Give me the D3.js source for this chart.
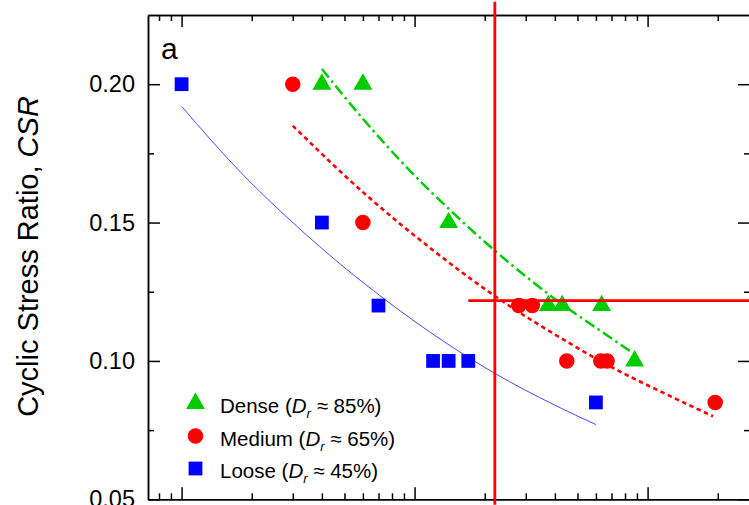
<!DOCTYPE html>
<html>
<head>
<meta charset="utf-8">
<script src="https://cdn.jsdelivr.net/npm/d3@7"></script>
<style>
  html, body { margin: 0; padding: 0; background: #fff; }
  svg { display: block; font-family: Arial, "Liberation Sans", sans-serif; }
</style>
</head>
<body>
<div id="chart"></div>
<script>
// data: N = number of cycles, CSR = cyclic stress ratio
var looseN = [1, 4, 7, 12, 14, 17, 60];
var looseCSR = [0.20, 0.15, 0.12, 0.10, 0.10, 0.10, 0.085];
var mediumN = [3, 6, 28, 32, 45, 63, 67, 195];
var mediumCSR = [0.20, 0.15, 0.12, 0.12, 0.10, 0.10, 0.10, 0.085];
var denseN = [4, 6, 14, 37.5, 43, 63.5, 88];
var denseCSR = [0.20, 0.20, 0.15, 0.12, 0.12, 0.12, 0.10];

// fitted curves, points
var looseFitN = [1, 1.8, 3, 8.7, 22, 40, 60];
var looseFitCSR = [0.192, 0.168, 0.150, 0.118, 0.0956, 0.084, 0.077];
var mediumFitN = [3, 6, 12, 22.5, 45, 71, 120, 191];
var mediumFitCSR = [0.185, 0.161, 0.140, 0.123, 0.107, 0.0975, 0.088, 0.080];
var denseFitN = [4, 6, 10, 14, 25, 40, 60, 84];
var denseFitCSR = [0.2055, 0.1875, 0.167, 0.155, 0.136, 0.1224, 0.112, 0.1036];

// red marker lines
var markerLineN = 22.1;
var markerLineCSRRange = [0.048, 0.2298];
var markerLineCSR = 0.1218;
var markerLineNRange = [17, 300];

var yTicks = [0.05, 0.10, 0.15, 0.20];
var yMinorTicks = [0.075, 0.125, 0.175];
var xTicks = [1, 10, 100];
var xMinorTicks = [0.8, 0.9, 2, 3, 4, 5, 6, 7, 8, 9, 20, 30, 40, 50, 60, 70, 80, 90, 200];

var legendLabels = [
	{ name: "Dense", pct: "85%" },
	{ name: "Medium", pct: "65%" },
	{ name: "Loose", pct: "45%" }
];

var W = 749, H = 505;
var plotLeft = 148, plotRight = 750, plotTop = 15, plotBottom = 499.3;

var svg = d3.select("#chart").append("svg").attr("width", W).attr("height", H);

var x = d3.scaleLog().domain([0.7175, 275.1]).range([plotLeft, plotRight]);
var y = d3.scaleLinear().domain([0.05, 0.225]).range([plotBottom, plotTop]);

var green = "#00cc00", red = "#ff0000", blue = "#0000ff";

// axes: ticks point inward on every side
function styleAxis(g) {
	g.selectAll("path").attr("stroke", "#000").attr("stroke-width", 1.5);
	g.selectAll("line").attr("stroke", "#000").attr("stroke-width", 1.5);
}
svg.append("g").attr("transform", "translate(" + plotLeft + ",0)")
	.call(d3.axisLeft(y).tickValues(yTicks).tickSizeInner(-12).tickSizeOuter(0)
		.tickPadding(13).tickFormat(d3.format(".2f")))
	.call(styleAxis)
	.call(function(g) {
		g.selectAll("text").attr("font-size", 23.5).attr("fill", "#000")
			.attr("font-family", "Arial, 'Liberation Sans', sans-serif");
	});
svg.append("g").attr("transform", "translate(" + plotLeft + ",0)")
	.call(d3.axisLeft(y).tickValues(yMinorTicks).tickSizeInner(-6).tickSizeOuter(0).tickFormat(""))
	.call(styleAxis);
svg.append("g").attr("transform", "translate(" + plotRight + ",0)")
	.call(d3.axisLeft(y).tickValues(yTicks).tickSizeInner(12).tickSizeOuter(0).tickFormat(""))
	.call(styleAxis);
svg.append("g").attr("transform", "translate(" + plotRight + ",0)")
	.call(d3.axisLeft(y).tickValues(yMinorTicks).tickSizeInner(6).tickSizeOuter(0).tickFormat(""))
	.call(styleAxis);
svg.append("g").attr("transform", "translate(0," + plotTop + ")")
	.call(d3.axisBottom(x).tickValues(xTicks).tickSizeInner(12).tickSizeOuter(0).tickFormat(""))
	.call(styleAxis);
svg.append("g").attr("transform", "translate(0," + plotTop + ")")
	.call(d3.axisBottom(x).tickValues(xMinorTicks).tickSizeInner(6).tickSizeOuter(0).tickFormat(""))
	.call(styleAxis);
svg.append("g").attr("transform", "translate(0," + plotBottom + ")")
	.call(d3.axisTop(x).tickValues(xTicks).tickSizeInner(12).tickSizeOuter(0).tickFormat(""))
	.call(styleAxis);
svg.append("g").attr("transform", "translate(0," + plotBottom + ")")
	.call(d3.axisTop(x).tickValues(xMinorTicks).tickSizeInner(6).tickSizeOuter(0).tickFormat(""))
	.call(styleAxis);

// y title
svg.append("text")
	.attr("transform", "translate(38,256.5) rotate(-90)")
	.attr("text-anchor", "middle")
	.attr("font-size", 29)
	.attr("fill", "#000")
	.call(function(t) {
		t.append("tspan").text("Cyclic Stress Ratio, ");
		t.append("tspan").attr("font-style", "italic").text("CSR");
	});

// panel label
svg.append("text").attr("x", 161).attr("y", 59).attr("font-size", 30).attr("fill", "#000").text("a");

// fit curves
var line = d3.line().x(function(d) { return x(d[0]); }).y(function(d) { return y(d[1]); })
	.curve(d3.curveMonotoneX);
function pairs(a, b) { return a.map(function(v, i) { return [v, b[i]]; }); }

svg.append("path").datum(pairs(looseFitN, looseFitCSR)).attr("d", line)
	.attr("fill", "none").attr("stroke", "#4a4aff").attr("stroke-width", 1);
svg.append("path").datum(pairs(mediumFitN, mediumFitCSR)).attr("d", line)
	.attr("fill", "none").attr("stroke", red).attr("stroke-width", 2.6)
	.attr("stroke-dasharray", "4.5,3.5");
svg.append("path").datum(pairs(denseFitN, denseFitCSR)).attr("d", line)
	.attr("fill", "none").attr("stroke", green).attr("stroke-width", 2.5)
	.attr("stroke-dasharray", "11,4,2.5,4");

// markers
var triSym = d3.symbol().type(d3.symbolTriangle).size(155);
var cirSym = d3.symbol().type(d3.symbolCircle).size(190);
var sqSym = d3.symbol().type(d3.symbolSquare).size(190);

function drawPoints(ns, csrs, sym, color) {
	svg.append("g").selectAll("path").data(pairs(ns, csrs)).enter().append("path")
		.attr("d", sym)
		.attr("transform", function(d) { return "translate(" + x(d[0]) + "," + y(d[1]) + ")"; })
		.attr("fill", color);
}
drawPoints(looseN, looseCSR, sqSym, blue);
drawPoints(mediumN, mediumCSR, cirSym, red);
drawPoints(denseN, denseCSR, triSym, green);

// red marker lines
svg.append("line")
	.attr("x1", x(markerLineN)).attr("x2", x(markerLineN))
	.attr("y1", y(markerLineCSRRange[1])).attr("y2", y(markerLineCSRRange[0]))
	.attr("stroke", red).attr("stroke-width", 2.8);
svg.append("line")
	.attr("x1", x(markerLineNRange[0])).attr("x2", x(markerLineNRange[1]))
	.attr("y1", y(markerLineCSR)).attr("y2", y(markerLineCSR))
	.attr("stroke", red).attr("stroke-width", 2.8);

// legend
var legendSyms = [triSym, cirSym, sqSym];
var legendColors = [green, red, blue];
var legend = svg.append("g");
legendLabels.forEach(function(lab, i) {
	var ly = 403.5 + i * 32.5;
	legend.append("path").attr("d", legendSyms[i])
		.attr("transform", "translate(195.5," + ly + ")")
		.attr("fill", legendColors[i]);
	var t = legend.append("text").attr("x", 220).attr("y", ly + 9.5)
		.attr("font-size", 20.5).attr("fill", "#000");
	t.append("tspan").text(lab.name + " (");
	t.append("tspan").attr("font-style", "italic").text("D");
	t.append("tspan").attr("font-style", "italic").attr("font-size", 13).attr("dy", 5).text("r");
	t.append("tspan").attr("dy", -5).text(" \u2248 " + lab.pct + ")");
});
</script>
</body>
</html>
